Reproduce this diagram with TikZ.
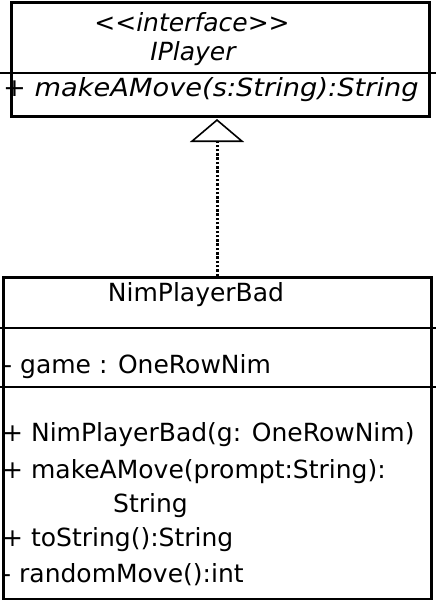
\documentclass[tikz,border=0pt]{standalone}
\usepackage{fontspec}
\setmainfont{DejaVu Sans}
\usetikzlibrary{arrows.meta}
\begin{document}
\begin{tikzpicture}[x=1pt,y=-1pt,
  box/.style={draw,line width=2.5pt,inner sep=0pt,anchor=north west},
  sep/.style={line width=2.5pt},
  txt/.style={inner sep=0pt,font=\fontsize{25}{30}\selectfont},
  ltxt/.style={txt,anchor=west},
  itxt/.style={txt,font=\fontsize{25}{30}\selectfont\itshape}]
\useasboundingbox (0,0) rectangle (436,600);
% interface box
\node[box,minimum width=418pt,minimum height=114pt] (iface) at (10,1) {};
\draw[sep] (0,73) -- (436,73);
\node[itxt] (stereo) at (192,22) {{<}{<}interface{>}{>}};
\node[itxt] (iname) at (193,54) {IPlayer};
\node[itxt,anchor=west] (iop) at (3,90) {\scalebox{1.09}[1]{+ makeAMove(s:String):String}};
% class box
\node[box,minimum width=428pt,minimum height=322pt] (cls) at (2,276) {};
\draw[sep] (0,328) -- (436,328);
\draw[sep] (0,387) -- (436,387);
\node[txt] (cname) at (196,295) {NimPlayerBad};
\node[ltxt] (attr) at (3,367) {- game : OneRowNim};
\node[ltxt] (op1) at (2,435) {+ NimPlayerBad(g: OneRowNim)};
\node[ltxt] (op2) at (2,472) {+ makeAMove(prompt:String):};
\node[ltxt] (op2b) at (113,506) {String};
\node[ltxt] (op3) at (2,540) {+ toString():String};
\node[ltxt] (op4) at (2,575) {- randomMove():int};
% realization
\coordinate (tip) at (217,119);
\draw[line width=3pt,dash pattern=on 2.5pt off 1.8pt,
  -{Triangle[open,length=23pt,width=54pt,line width=1.6pt]}] (cls.north -| tip) -- (tip);
\end{tikzpicture}
\end{document}
